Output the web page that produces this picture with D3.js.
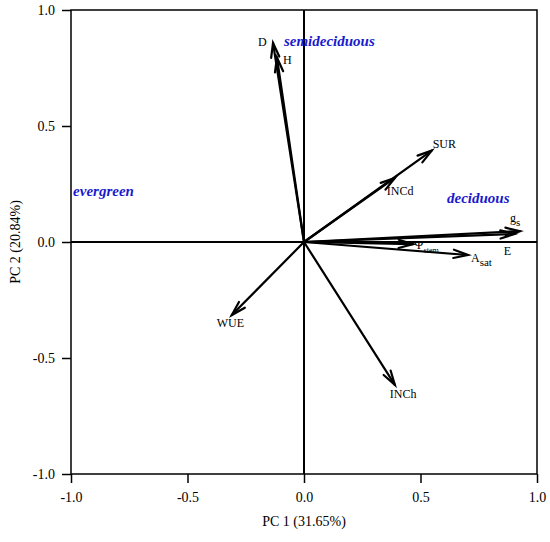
<!DOCTYPE html>
<html>
<head>
<meta charset="utf-8">
<script src="https://cdn.jsdelivr.net/npm/d3@7"></script>
<style>
  body { margin: 0; background: #fff; }
  svg { display: block; }
  text { font-family: 'Liberation Serif', 'Times New Roman', serif; }
</style>
</head>
<body>
<svg id="chart" width="550" height="542"></svg>
<script>
// ---- data ----
const variables = ["D", "H", "SUR", "INCd", "gs", "E", "Ψstem", "Asat", "WUE", "INCh"];
const pc1 = [-0.133, -0.116, 0.548, 0.390, 0.927, 0.905, 0.468, 0.704, -0.310, 0.390];
const pc2 = [0.858, 0.795, 0.394, 0.276, 0.047, 0.035, -0.009, -0.056, -0.315, -0.616];
const groupNames = ["semideciduous", "deciduous", "evergreen"];
const groupX = [-0.086, 0.614, -0.991];
const groupY = [0.845, 0.168, 0.198];
const tickValues = [-1.0, -0.5, 0.0, 0.5, 1.0];
const xTitle = "PC 1 (31.65%)";
const yTitle = "PC 2 (20.84%)";

// ---- layout ----
const svg = d3.select("#chart");
const mLeft = 71, mRight = 537, mTop = 10, mBottom = 474;
const x = d3.scaleLinear().domain([-1, 1]).range([mLeft, mRight]);
const y = d3.scaleLinear().domain([-1, 1]).range([mBottom, mTop]);
const serif = "'Liberation Serif', 'Times New Roman', serif";
const fmt = d => d.toFixed(1);

// axes
const xAxis = d3.axisBottom(x).tickValues(tickValues).tickFormat(fmt)
  .tickSize(9).tickSizeOuter(0).tickPadding(9);
const yAxis = d3.axisLeft(y).tickValues(tickValues).tickFormat(fmt)
  .tickSize(9).tickSizeOuter(0).tickPadding(7);

const gx = svg.append("g").attr("transform", `translate(0,${mBottom})`).call(xAxis);
const gy = svg.append("g").attr("transform", `translate(${mLeft},0)`).call(yAxis);
[gx, gy].forEach(g => {
  g.attr("font-family", serif).attr("font-size", 14);
  g.select(".domain").remove();
  g.selectAll("line").attr("stroke", "#000").attr("stroke-width", 1.5);
  g.selectAll("text").attr("font-family", serif).attr("font-size", 14).attr("fill", "#000");
});
gy.selectAll("text").attr("dy", "0.35em");

// frame
svg.append("rect").attr("x", mLeft).attr("y", mTop)
  .attr("width", mRight - mLeft).attr("height", mBottom - mTop)
  .attr("fill", "none").attr("stroke", "#000").attr("stroke-width", 1.5);

// zero lines
svg.append("line").attr("x1", x(-1)).attr("x2", x(1)).attr("y1", y(0)).attr("y2", y(0))
  .attr("stroke", "#000").attr("stroke-width", 2);
svg.append("line").attr("x1", x(0)).attr("x2", x(0)).attr("y1", y(-1)).attr("y2", y(1))
  .attr("stroke", "#000").attr("stroke-width", 2);

// axis titles
svg.append("text").attr("x", (mLeft + mRight) / 2).attr("y", 526)
  .attr("text-anchor", "middle").attr("font-family", serif).attr("font-size", 14)
  .text(xTitle);
svg.append("text").attr("transform", `translate(20,${(mTop + mBottom) / 2}) rotate(-90)`)
  .attr("text-anchor", "middle").attr("font-family", serif).attr("font-size", 14)
  .text(yTitle);

// arrows
const data = variables.map((v, i) => ({ name: v, x: pc1[i], y: pc2[i] }));
const ag = svg.append("g").attr("stroke", "#000").attr("fill", "none")
  .attr("stroke-width", 2.2).attr("stroke-linecap", "round").attr("stroke-linejoin", "miter");
const headLen = 15, headAng = 16 * Math.PI / 180;
data.forEach(d => {
  const x0 = x(0), y0 = y(0), x1 = x(d.x), y1 = y(d.y);
  ag.append("line").attr("x1", x0).attr("y1", y0).attr("x2", x1).attr("y2", y1);
  const a = Math.atan2(y1 - y0, x1 - x0);
  const p1 = [x1 - headLen * Math.cos(a - headAng), y1 - headLen * Math.sin(a - headAng)];
  const p2 = [x1 - headLen * Math.cos(a + headAng), y1 - headLen * Math.sin(a + headAng)];
  ag.append("path").attr("d", `M${p1[0]},${p1[1]}L${x1},${y1}L${p2[0]},${p2[1]}`);
});

// arrow labels (offsets from arrow tips, in px)
const labelOffset = {
  "D": [-15, 3], "H": [6, 6], "SUR": [1, -3], "INCd": [-8, 17], "gs": [-10, -9],
  "E": [-11, 21], "Ψstem": [1, 5], "Asat": [3, 7], "WUE": [-15, 12], "INCh": [-5, 13]
};
const lg = svg.append("g").attr("font-family", serif).attr("font-size", 12).attr("fill", "#000");
data.forEach(d => {
  const off = labelOffset[d.name];
  const t = lg.append("text").attr("x", x(d.x) + off[0]).attr("y", y(d.y) + off[1])
    .attr("fill", "#000");
  if (d.name === "gs" || d.name === "Asat" || d.name === "Ψstem") {
    const base = d.name === "Ψstem" ? "Ψ" : d.name[0];
    const sub = d.name === "Ψstem" ? "stem" : d.name.slice(1);
    t.append("tspan").attr("font-size", d.name === "Ψstem" ? 13 : 12).text(base);
    t.append("tspan").attr("dy", 4).attr("font-size", d.name === "Ψstem" ? 8 : 11).text(sub);
  } else {
    t.text(d.name);
  }
});

// group labels
svg.append("g").selectAll("text").data(groupNames).join("text")
  .attr("x", (d, i) => x(groupX[i])).attr("y", (d, i) => y(groupY[i]))
  .attr("font-family", serif).attr("font-size", 15).attr("font-weight", "bold")
  .attr("font-style", "italic").attr("fill", "#1a1acd")
  .text(d => d);
</script>
</body>
</html>
